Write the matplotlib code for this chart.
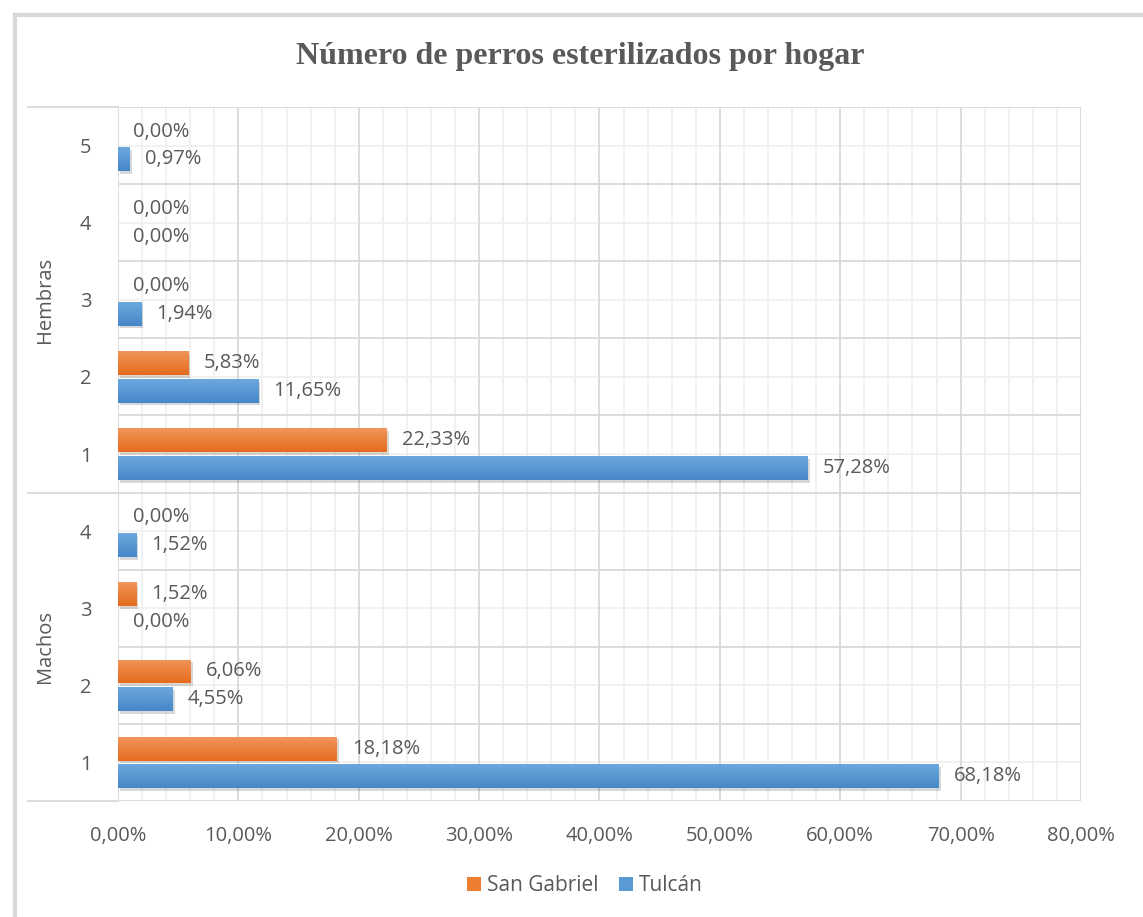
import matplotlib
matplotlib.use("Agg")
import matplotlib.pyplot as plt
import matplotlib.patheffects as pe
from matplotlib.lines import Line2D
from matplotlib.patches import Patch
from matplotlib.ticker import MultipleLocator, FuncFormatter
import numpy as np

# data, bottom to top (Machos 1-4, Hembras 1-5)
groups = ["Machos", "Hembras"]
machos_cats = ["1", "2", "3", "4"]
hembras_cats = ["1", "2", "3", "4", "5"]
san_gabriel = [18.18, 6.06, 1.52, 0.00, 22.33, 5.83, 0.00, 0.00, 0.00]
tulcan = [68.18, 4.55, 0.00, 1.52, 57.28, 11.65, 1.94, 0.00, 0.97]
series_names = ["San Gabriel", "Tulcán"]

txt = "#595959"
orange = "#ED7D31"
blue = "#5B9BD5"
fs = 14.5
plt.rcParams['font.family'] = ['Open Sans', 'DejaVu Sans']

fig = plt.figure(figsize=(11.43, 9.17), dpi=100)
ax = fig.add_axes([118 / 1143, 1 - 801 / 917, (1081 - 118) / 1143, (801 - 107) / 917])

cats = machos_cats + hembras_cats
y = np.arange(len(cats))
h = 0.31
off = 0.18


def fmt(v):
    return f"{v:.2f}".replace(".", ",") + "%"


def gradient_bars(bars, top_col, bot_col):
    grad = np.linspace(0, 1, 64).reshape(-1, 1)
    cmap = matplotlib.colors.LinearSegmentedColormap.from_list("g", [bot_col, top_col])
    for b in bars:
        if b.get_width() <= 0:
            continue
        x0, y0 = b.get_x(), b.get_y()
        im = ax.imshow(grad, cmap=cmap, aspect="auto", origin="lower",
                       extent=[x0, x0 + b.get_width(), y0, y0 + b.get_height()],
                       zorder=3.1)
        im.set_clip_path(b)


b_sg = ax.barh(y + off, san_gabriel, height=h, color=orange, zorder=3)
b_tu = ax.barh(y - off, tulcan, height=h, color=blue, zorder=3)
for bars in (b_sg, b_tu):
    for b in bars:
        if b.get_width() > 0:
            b.set_path_effects([pe.SimplePatchShadow(offset=(1.5, -2), alpha=0.18), pe.Normal()])
gradient_bars(b_sg, "#F2955A", "#E36C1E")
gradient_bars(b_tu, "#6CA8DE", "#4787C8")

for bars, vals in ((b_sg, san_gabriel), (b_tu, tulcan)):
    for b, v in zip(bars, vals):
        ax.annotate(fmt(v), (v, b.get_y() + b.get_height() / 2), xytext=(11, 0),
                    textcoords="offset points", va="center", ha="left",
                    fontsize=fs, color=txt, zorder=5)

ax.set_xlim(0, 80)
ax.set_ylim(-0.5, len(cats) - 0.5)
ax.xaxis.set_major_locator(MultipleLocator(10))
ax.xaxis.set_minor_locator(MultipleLocator(2))
ax.xaxis.set_major_formatter(FuncFormatter(lambda v, p: fmt(v)))
ax.set_yticks(y)
ax.set_yticklabels(cats)

ax.grid(False)
for v in np.arange(0, 81, 2):
    ax.axvline(v, color="#D9D9D9" if v % 10 == 0 else "#F0F0F0", lw=1.3, zorder=1 if v % 10 else 1.5)
for c in y:
    ax.axhline(c, color="#F0F0F0", lw=1.3, zorder=1)
for c in np.arange(-0.5, len(cats), 1.0):
    ax.axhline(c, color="#D9D9D9", lw=1.3, zorder=1.5)

for s in ax.spines.values():
    s.set_visible(False)
ax.tick_params(axis="both", which="both", length=0, colors=txt, labelsize=fs)
ax.tick_params(axis="x", pad=18)
ax.tick_params(axis="y", pad=19)

# group separators in the label area
trans = matplotlib.transforms.blended_transform_factory(fig.transFigure, ax.transData)
for yy in (-0.5, len(machos_cats) - 0.5, len(cats) - 0.5):
    ax.add_line(Line2D([28 / 1143, 118 / 1143], [yy, yy], transform=trans,
                       color="#D9D9D9", lw=1.3, clip_on=False))
ax.text(45 / 1143, (len(machos_cats) - 1) / 2, groups[0], transform=trans, rotation=90,
        ha="center", va="center", fontsize=fs, color=txt)
ax.text(45 / 1143, len(machos_cats) + (len(hembras_cats) - 1) / 2, groups[1], transform=trans,
        rotation=90, ha="center", va="center", fontsize=fs, color=txt)

fig.text(0.508, 0.938, "Número de perros esterilizados por hogar", ha="center", va="center",
         fontsize=23, fontweight="bold", family="Liberation Serif", color=txt)

handles = [Patch(facecolor=orange), Patch(facecolor=blue)]
fig.legend(handles, series_names, loc="center", bbox_to_anchor=(0.512, 0.034), ncol=2,
           frameon=False, fontsize=15, labelcolor=txt, handlelength=0.65, handleheight=0.65,
           handletextpad=0.3, columnspacing=1.0)

# outer chart frame (left and top edges visible)
fig.add_artist(Line2D([15 / 1143, 15 / 1143], [0, 1 - 15 / 917], color="#D9D9D9", lw=3,
                      transform=fig.transFigure))
fig.add_artist(Line2D([15 / 1143, 1], [1 - 15 / 917, 1 - 15 / 917], color="#D9D9D9", lw=3,
                      transform=fig.transFigure))

fig.savefig("out.png", dpi=100)
